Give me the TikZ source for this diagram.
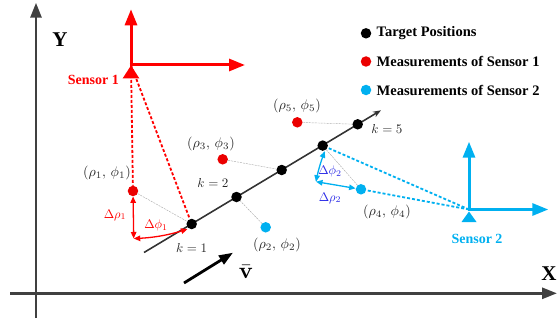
\documentclass[tikz,border=0pt]{standalone}
\usepackage[no-math]{fontspec}
\setmainfont{Liberation Serif}
\usetikzlibrary{arrows.meta,calc}
\definecolor{sred}{RGB}{255,0,0}
\definecolor{dred}{RGB}{235,0,0}
\definecolor{sblue}{RGB}{0,176,240}
\definecolor{dblue}{RGB}{40,40,230}
\definecolor{axgray}{RGB}{64,64,64}
\newcommand{\MyMathLab}[2]{\scalebox{#1}{$#2$}}
\begin{document}
\begin{tikzpicture}[x=1pt,y=-1pt,
  axisline/.style={axgray, line width=2.8pt, -{Triangle[length=15pt,width=11pt]}},
  framearrow/.style={line width=3pt, -{Triangle[length=16pt,width=12pt]}},
  tdot/.style={circle, fill=black, inner sep=0pt, minimum size=10.5pt},
  rdot/.style={circle, fill=dred, inner sep=0pt, minimum size=10.5pt},
  bdot/.style={circle, fill=sblue, inner sep=0pt, minimum size=10.5pt},
  gline/.style={gray!65, line width=0.45pt, dash pattern=on 2pt off 1pt},
  sdash/.style={line width=1.8pt, dash pattern=on 3pt off 2pt},
  mlab/.style={text=black!85, inner sep=1pt},
  dlab/.style={inner sep=1pt},
  legtext/.style={font=\fontsize{14.5}{17}\selectfont\bfseries, anchor=west, inner sep=0pt},
  senslab/.style={font=\fontsize{14}{16}\selectfont\bfseries, inner sep=0pt},
  dart/.style={line width=1.3pt, {Triangle[length=6.5pt,width=5.5pt]}-{Triangle[length=6.5pt,width=5.5pt]}}
]
\useasboundingbox (0,0) rectangle (557,321);

% main axes
\draw[axisline] (36,318) -- (36,2.7);
\draw[axisline] (10,293.3) -- (557,293.3);
\node[font=\fontsize{21}{23}\selectfont\bfseries] (ylab) at (60,40) {Y};
\node[font=\fontsize{21}{23}\selectfont\bfseries] (xlab) at (549,274) {X};

% sensors
\coordinate (S1) at (131,65);
\coordinate (S2) at (469,209.5);

% targets
\coordinate (A) at (144,252.5);
\coordinate (B) at (381,110.3);
\draw[black!80, line width=1.6pt, -{Stealth[length=8pt,width=6pt]}] (A) -- (B);

% measurements
\node[rdot] (r1) at ($(S1)+(89.1:126)$) {};
\node[rdot] (r3) at (222.7,159.3) {};
\node[rdot] (r5) at (297.3,122.3) {};
\node[bdot] (r2) at (265.7,227.3) {};
\node[bdot] (r4) at ($(S2)+(190.6:109.9)$) {};

\node[tdot] (k1) at (191.7,224) {};
\node[tdot] (k2) at (236.5,197) {};
\node[tdot] (t3) at (281.7,170) {};
\node[tdot] (t4) at (322.7,145.6) {};
\node[tdot] (t5) at (357.7,124.3) {};

% thin gray links
\draw[gline] (r1) -- (k1);
\draw[gline] (r3) -- (t3);
\draw[gline] (r5) -- (t5);
\draw[gline] (r2) -- (k2);
\draw[gline] (r4) -- (t4);

% sensor dashed lines
\draw[sdash, sred] (S1) -- (r1);
\draw[sdash, sred] (S1) -- (k1);
\draw[sdash, sblue] (S2) -- (t4);
\draw[sdash, sblue] (S2) -- (r4);

% sensor frames
\draw[framearrow, sred] (S1) -- (131,9.3);
\draw[framearrow, sred] ([xshift=-1.5pt]S1) -- (245,65);
\fill[sred] (131,65.5) -- (139.3,78.3) -- (122.7,78.3) -- cycle;
\draw[framearrow, sblue] (S2) -- (469,141.7);
\draw[framearrow, sblue] ([xshift=-1.5pt]S2) -- (548.3,209.5);
\fill[sblue] (469,211.5) -- (476.5,222) -- (461.5,222) -- cycle;
\node[senslab, text=sred] (s1lab) at (93.3,80) {Sensor 1};
\node[senslab, text=sblue] (s2lab) at (477,239) {Sensor 2};

% delta constructions
\coordinate (c1) at ($(S1)+(89.1:173.5)$);
\coordinate (c2) at ($(S2)+(190.3:155.5)$);
\draw[dart, sred] (r1) -- (c1);
\draw[dart, sred] plot[domain=89.1:71, samples=30] ({131+173.5*cos(\x)},{65+173.5*sin(\x)});
\draw[dart, sblue] (c2) -- (r4);
\draw[dart, sblue] plot[domain=190.3:202, samples=30] ({469+155.5*cos(\x)},{209.5+155.5*sin(\x)});

% labels
\node[mlab] (l1) at (107,172.7) {\MyMathLab{1.4}{(\rho_1,\,\phi_1)}};
\node[mlab] (l3) at (211,144) {\MyMathLab{1.4}{(\rho_3,\,\phi_3)}};
\node[mlab] (l5) at (297,105.7) {\MyMathLab{1.4}{(\rho_5,\,\phi_5)}};
\node[mlab] (l2) at (277,245) {\MyMathLab{1.4}{(\rho_2,\,\phi_2)}};
\node[mlab] (l4) at (387,212) {\MyMathLab{1.4}{(\rho_4,\,\phi_4)}};
\node[mlab] (kk1) at (191.7,247.7) {\MyMathLab{1.3}{k=1}};
\node[mlab] (kk2) at (213,183) {\MyMathLab{1.3}{k=2}};
\node[mlab] (kk5) at (387,129.3) {\MyMathLab{1.3}{k=5}};
\node[dlab, text=sred] (dr1) at (115,215) {\MyMathLab{1.25}{\Delta\rho_1}};
\node[dlab, text=sred] (dp1) at (156,225) {\MyMathLab{1.25}{\Delta\phi_1}};
\node[dlab, text=dblue] (dp2) at (330,171.7) {\MyMathLab{1.25}{\Delta\phi_2}};
\node[dlab, text=dblue] (dr2) at (330,198) {\MyMathLab{1.25}{\Delta\rho_2}};

% velocity
\coordinate (v0) at (184,283);
\coordinate (v1) at (233,252.7);
\draw[line width=2.8pt, -{Triangle[length=14pt,width=10pt]}] (v0) -- (v1);
\node[inner sep=0pt] (vlab) at (246,272) {\MyMathLab{2.3}{\bar{\mathbf{v}}}};

% legend
\node[tdot] (lg1) at (366,33.3) {};
\node[rdot] (lg2) at (366,61.5) {};
\node[bdot] (lg3) at (366,90) {};
\node[legtext] (lt1) at (376.5,33.3) {Target Positions};
\node[legtext] (lt2) at (376.5,61.5) {Measurements of Sensor 1};
\node[legtext] (lt3) at (376.5,90) {Measurements of Sensor 2};
\end{tikzpicture}
\end{document}
